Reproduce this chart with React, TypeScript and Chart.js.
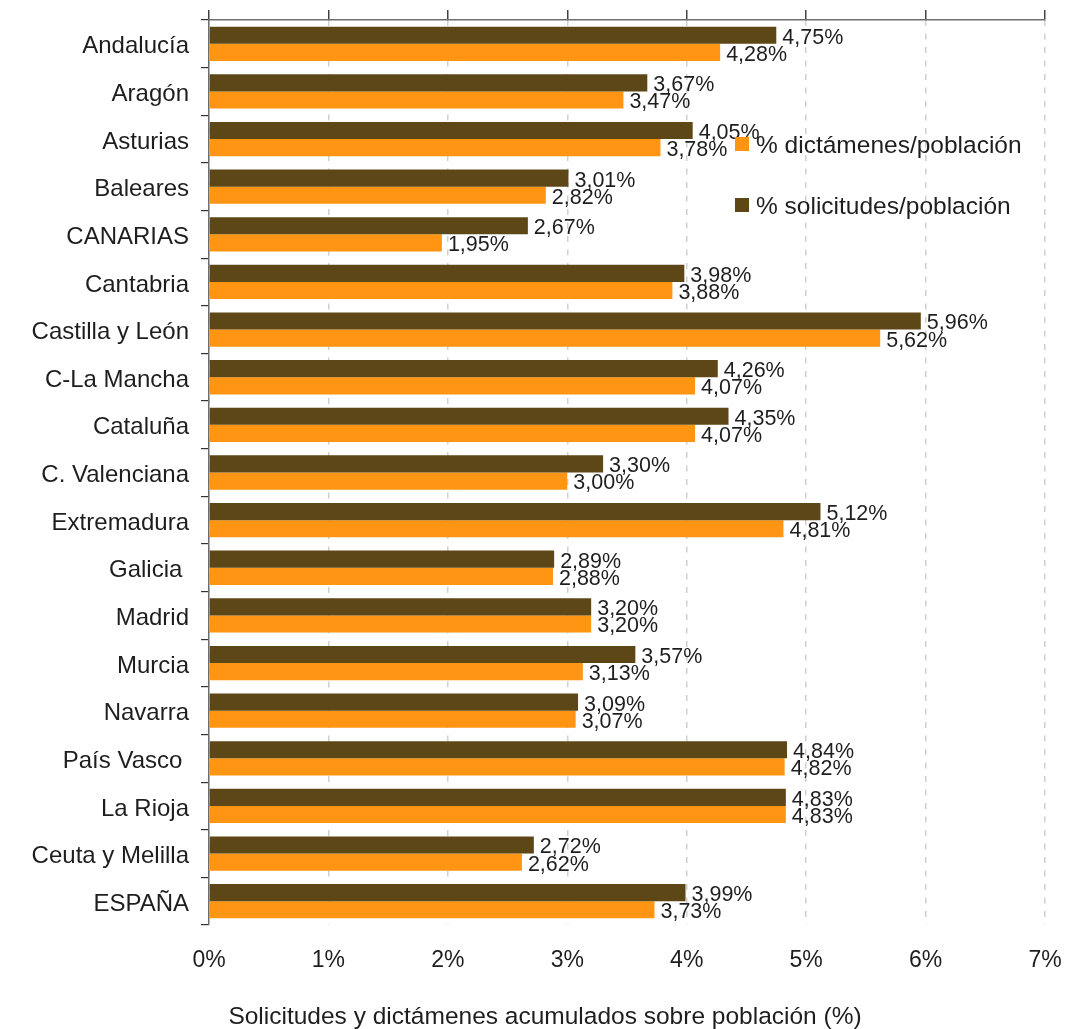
import React, { useEffect, useRef } from "react";
import { Chart, registerables } from "chart.js";

Chart.register(...registerables);

const categories = [
  "Andalucía", "Aragón", "Asturias", "Baleares", "CANARIAS", "Cantabria",
  "Castilla y León", "C-La Mancha", "Cataluña", "C. Valenciana", "Extremadura",
  "Galicia ", "Madrid", "Murcia", "Navarra", "País Vasco ", "La Rioja",
  "Ceuta y Melilla", "ESPAÑA",
];
const solicitudes = [4.75, 3.67, 4.05, 3.01, 2.67, 3.98, 5.96, 4.26, 4.35, 3.30, 5.12, 2.89, 3.20, 3.57, 3.09, 4.84, 4.83, 2.72, 3.99];
const dictamenes = [4.28, 3.47, 3.78, 2.82, 1.95, 3.88, 5.62, 4.07, 4.07, 3.00, 4.81, 2.88, 3.20, 3.13, 3.07, 4.82, 4.83, 2.62, 3.73];
const xTicks = [0, 1, 2, 3, 4, 5, 6, 7];
const seriesNames = ["% solicitudes/población", "% dictámenes/población"];
const axisTitle = "Solicitudes y dictámenes acumulados sobre población (%)";

const DARK = "#5e4716";
const ORANGE = "#ff9512";
const FONT = "'Liberation Sans', Arial, sans-serif";
const TEXT = "#1e1e1e";

export default function App() {
  const ref = useRef<HTMLCanvasElement | null>(null);
  useEffect(() => {
    if (!ref.current) return;
    const labelsPlugin = {
      id: "valueLabels",
      afterDatasetsDraw(chart: any) {
        const ctx = chart.ctx;
        ctx.save();
        ctx.font = `21.5px ${FONT}`;
        ctx.fillStyle = TEXT;
        ctx.textAlign = "left";
        ctx.textBaseline = "middle";
        chart.data.datasets.forEach((ds: any, di: number) => {
          const meta = chart.getDatasetMeta(di);
          meta.data.forEach((el: any, i: number) => {
            const v = ds.data[i] as number;
            ctx.fillText(v.toFixed(2).replace(".", ",") + "%", el.x + 6, el.y + 2.5);
          });
        });
        ctx.restore();
      },
    };
    const legendPlugin = {
      id: "customLegend",
      afterDraw(chart: any) {
        const ctx = chart.ctx;
        ctx.save();
        const items = [
          { color: ORANGE, text: seriesNames[1], y: 145 },
          { color: DARK, text: seriesNames[0], y: 206 },
        ];
        ctx.font = `24.5px ${FONT}`;
        ctx.textBaseline = "middle";
        ctx.textAlign = "left";
        items.forEach((it) => {
          ctx.fillStyle = it.color;
          ctx.fillRect(735, it.y - 8, 14, 14);
          ctx.fillStyle = TEXT;
          ctx.fillText(it.text, 756, it.y + 1);
        });
        ctx.font = `24.5px ${FONT}`;
        ctx.textAlign = "center";
        ctx.fillText(axisTitle, 545, 1017);
        ctx.restore();
      },
    };
    const chart = new Chart(ref.current, {
      type: "bar",
      data: {
        labels: categories,
        datasets: [
          { label: seriesNames[0], data: solicitudes, backgroundColor: DARK, categoryPercentage: 0.72, barPercentage: 1.0 },
          { label: seriesNames[1], data: dictamenes, backgroundColor: ORANGE, categoryPercentage: 0.72, barPercentage: 1.0 },
        ],
      },
      options: {
        indexAxis: "y",
        animation: false,
        responsive: false,
        devicePixelRatio: 1,
        layout: { padding: { left: 0, right: 33, top: 0, bottom: 0 } },
        plugins: { legend: { display: false }, tooltip: { enabled: false } },
        scales: {
          x: {
            type: "linear",
            position: "bottom",
            min: xTicks[0],
            max: xTicks[xTicks.length - 1],
            ticks: {
              stepSize: 1,
              callback: (v: any) => v + "%",
              font: { family: FONT, size: 23 },
              color: TEXT,
              padding: 22,
            },
            grid: { color: "#d0d0d0", lineWidth: 1.5, drawTicks: false },
            border: { display: false, dash: [6, 7.5] },
            afterFit: (s: any) => { s.height = 104; s.paddingLeft = 0; s.paddingRight = 0; },
          },
          x2: {
            type: "linear",
            position: "top",
            min: xTicks[0],
            max: xTicks[xTicks.length - 1],
            ticks: { stepSize: 1, display: false },
            grid: { drawOnChartArea: false, drawTicks: true, tickLength: 10, color: "#444", lineWidth: 1.5 },
            border: { display: true, color: "#6e6e6e", width: 1.5 },
            afterFit: (s: any) => { s.height = 20; s.paddingLeft = 0; s.paddingRight = 0; },
          },
          y: {
            type: "category",
            position: "left",
            ticks: { font: { family: FONT, size: 24 }, color: TEXT, padding: 12, autoSkip: false, labelOffset: 3 },
            grid: { drawOnChartArea: false, tickLength: 8, color: "#333", lineWidth: 1.2, offset: true },
            border: { display: true, color: "#6e6e6e", width: 1.5 },
            afterFit: (s: any) => { s.width = 209; s.paddingTop = 0; s.paddingBottom = 0; },
          },
        },
      } as any,
      plugins: [labelsPlugin, legendPlugin],
    });
    return () => chart.destroy();
  }, []);
  return (
    <div style={{ position: "absolute", left: 0, top: 0, width: 1078, height: 1029, background: "#fff" }}>
      <canvas ref={ref} width={1078} height={1029} style={{ display: "block" }} />
    </div>
  );
}
